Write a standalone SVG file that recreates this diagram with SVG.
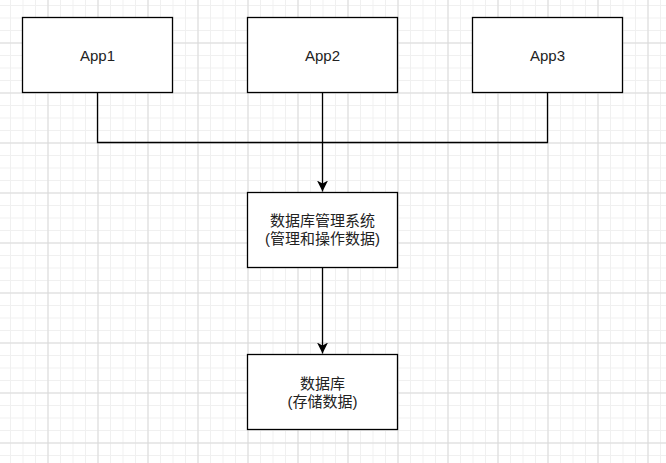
<svg xmlns="http://www.w3.org/2000/svg" width="666" height="463" viewBox="0 0 666 463">
  <defs>
    <pattern id="minor" x="10" y="5" width="12.5" height="12.5" patternUnits="userSpaceOnUse">
      <path d="M0.5 0V12.5M0 0.5H12.5" fill="none" stroke="#f0f0f0" stroke-width="1"/>
    </pattern>
    <pattern id="major" x="-2.5" y="-7.5" width="50" height="50" patternUnits="userSpaceOnUse">
      <path d="M0.5 0V50M0 0.5H50" fill="none" stroke="#d9d9d9" stroke-width="1"/>
    </pattern>
    <marker id="arrow" viewBox="0 0 12 12" refX="11" refY="6" markerWidth="12" markerHeight="12" markerUnits="userSpaceOnUse" orient="auto">
      <path d="M0 0.5L11 6L0 11.5L3 6Z" fill="#000"/>
    </marker>
    <style>
      .box { fill: #ffffff; stroke: #000000; stroke-width: 1.3; }
      .lbl { font-family: "Liberation Sans", "Noto Sans CJK SC", sans-serif; font-size: 15px; fill: #222222; text-anchor: middle; }
      .edge { fill: none; stroke: #000000; stroke-width: 1.3; }
    </style>
  </defs>
  <rect width="666" height="463" fill="#ffffff"/>
  <rect width="666" height="463" fill="url(#minor)"/>
  <rect width="666" height="463" fill="url(#major)"/>

  <g id="connectors">
    <path class="edge" d="M97.5 92.5V142.5H547.5V92.5"/>
    <path class="edge" d="M322.5 92.5V191.5" marker-end="url(#arrow)"/>
    <path class="edge" d="M322.5 267.5V353.5" marker-end="url(#arrow)"/>
  </g>

  <g id="app1">
    <rect class="box" x="22.5" y="17.5" width="150" height="75"/>
    <text class="lbl" x="97.5" y="60.5">App1</text>
  </g>
  <g id="app2">
    <rect class="box" x="247.5" y="17.5" width="150" height="75"/>
    <text class="lbl" x="322.5" y="60.5">App2</text>
  </g>
  <g id="app3">
    <rect class="box" x="472.5" y="17.5" width="150" height="75"/>
    <text class="lbl" x="547.5" y="60.5">App3</text>
  </g>
  <g id="dbms">
    <rect class="box" x="247.5" y="192.5" width="150" height="75"/>
    <text class="lbl" x="322.5" y="226">数据库管理系统</text>
    <text class="lbl" x="322.5" y="244">(管理和操作数据)</text>
  </g>
  <g id="db">
    <rect class="box" x="247.5" y="354.5" width="150" height="75"/>
    <text class="lbl" x="322.5" y="388.5">数据库</text>
    <text class="lbl" x="322.5" y="406.5">(存储数据)</text>
  </g>
</svg>
